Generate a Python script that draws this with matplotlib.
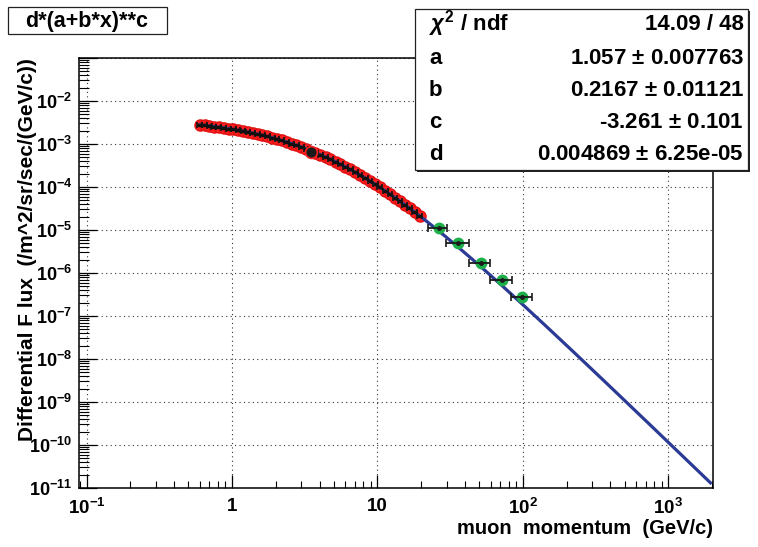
import numpy as np
import matplotlib
matplotlib.use('Agg')
import matplotlib.pyplot as plt
from matplotlib.patches import Rectangle
from matplotlib.ticker import FixedLocator, NullFormatter

plt.rcParams['font.family'] = ['Liberation Sans', 'DejaVu Sans']
plt.rcParams['font.weight'] = 'bold'
plt.rcParams['mathtext.fontset'] = 'custom'
plt.rcParams['mathtext.rm'] = 'Liberation Sans:bold'
plt.rcParams['mathtext.it'] = 'Liberation Sans:italic'
plt.rcParams['mathtext.bf'] = 'Liberation Sans:bold'

# red points (low momentum measurements)
red_x = [0.60, 0.65, 0.70, 0.75, 0.81, 0.88, 0.95, 1.02, 1.10, 1.19, 1.29, 1.39,
         1.50, 1.62, 1.75, 1.89, 2.04, 2.20, 2.38, 2.57, 2.77, 2.99, 3.23,
         3.75, 4.05, 4.40, 4.75, 5.15, 5.55, 6.00, 6.50, 7.05, 7.60, 8.25, 8.90,
         9.65, 10.4, 11.3, 12.2, 13.2, 14.3, 15.4, 16.7, 18.1, 19.6]
red_y = [2.78e-3, 2.70e-3, 2.62e-3, 2.55e-3, 2.46e-3, 2.37e-3, 2.27e-3, 2.19e-3,
         2.09e-3, 1.99e-3, 1.89e-3, 1.79e-3, 1.70e-3, 1.60e-3, 1.50e-3, 1.40e-3,
         1.30e-3, 1.21e-3, 1.11e-3, 1.02e-3, 9.37e-4, 8.54e-4, 7.75e-4,
         6.33e-4, 5.66e-4, 4.99e-4, 4.42e-4, 3.88e-4, 3.41e-4, 2.97e-4, 2.57e-4,
         2.20e-4, 1.90e-4, 1.61e-4, 1.38e-4, 1.16e-4, 9.8e-5, 8.15e-5, 6.83e-5,
         5.67e-5, 4.68e-5, 3.90e-5, 3.19e-5, 2.60e-5, 2.11e-5]
red_xerr_frac = 0.038

# overlapping point at the junction of the two red sets
join_x = [3.5]
join_y = [6.5e-4]

# green points (high momentum)
green_x = [26.3, 36.0, 51.3, 71.5, 99.0]
green_y = [1.13e-5, 4.9e-6, 1.74e-6, 6.9e-7, 2.72e-7]
green_xerr = [4.0, 6.3, 8.5, 12.2, 16.5]

# fit parameters from the stats box
fit_a, fit_b, fit_c, fit_d = 1.057, 0.2167, -3.261, 0.004869
fit_range = (0.6, 1950)

stats_rows = [(r'$\chi^{2}$ / ndf', '14.09 / 48'),
              ('a', '1.057 $\\pm$ 0.007763'),
              ('b', '0.2167 $\\pm$ 0.01121'),
              ('c', '-3.261 $\\pm$ 0.101'),
              ('d', '0.004869 $\\pm$ 6.25e-05')]

W, H = 758, 547
fig = plt.figure(figsize=(W / 100, H / 100), dpi=100)
ax = fig.add_axes([79 / W, 1 - 488 / H, (713 - 79) / W, (488 - 58) / H])
ax.set_xscale('log')
ax.set_yscale('log')
ax.set_xlim(0.0887, 2030)
ax.set_ylim(1e-11, 1e-1)

fx = np.geomspace(fit_range[0], fit_range[1], 400)
fy = fit_d * (fit_a + fit_b * fx) ** fit_c
ax.plot(fx, fy, color='#2b3a94', lw=2.3, zorder=4)

rx = np.array(red_x)
ax.plot(rx, red_y, 'o', color='#ff2020', ms=8, mec='#e01010', zorder=3)
ax.errorbar(rx, red_y, xerr=rx * red_xerr_frac, fmt='none', ecolor='#111111',
            elinewidth=2.4, capsize=2, capthick=1.2, zorder=5)
ax.plot(join_x, join_y, 'o', color='#1a1a1a', ms=8.5, mec='#ff2020', mew=1.2, zorder=6)

ax.plot(green_x, green_y, 'o', color='#1db04a', ms=7.5, mec='#1db04a', zorder=5)
ax.errorbar(green_x, green_y, xerr=green_xerr, fmt='none', ecolor='#1a1a1a',
            elinewidth=1.3, capsize=3, capthick=1.2, zorder=6)
ax.plot(green_x, green_y, 'o', color='#1a1a1a', ms=2.5, zorder=7)

# axes / ticks
xmaj = [0.1, 1, 10, 100, 1000]
xlab = [r'$10^{-1}$', '1', '10', r'$10^{2}$', r'$10^{3}$']
ymaj = [10.0 ** k for k in range(-11, 0)]
ylab = [r'$10^{%d}$' % k for k in range(-11, -1)] + ['']
ax.set_xticks(xmaj, xlab)
ax.set_yticks(ymaj, ylab)
xmin_t = [m * 10.0 ** e for e in range(-2, 4) for m in range(2, 10)]
ymin_t = [m * 10.0 ** e for e in range(-12, 0) for m in range(2, 10)]
ax.xaxis.set_minor_locator(FixedLocator(xmin_t))
ax.yaxis.set_minor_locator(FixedLocator(ymin_t))
ax.xaxis.set_minor_formatter(NullFormatter())
ax.yaxis.set_minor_formatter(NullFormatter())
ax.tick_params(axis='x', which='major', direction='in', length=9.5, width=0.9,
               labelsize=13.5, pad=7, top=False)
ax.tick_params(axis='x', which='minor', direction='in', length=4.8, width=0.8, top=False)
ax.tick_params(axis='y', which='major', direction='in', length=13, width=0.9,
               labelsize=13, pad=5, right=False)
ax.tick_params(axis='y', which='minor', direction='in', length=7, width=0.8, right=False)
for s in ax.spines.values():
    s.set_linewidth(1.1)
ax.grid(True, which='major', color='#333333', lw=0.8, ls=(0, (1, 3)))

fig.text(28 / W, 1 - 58 / H, 'Differential F lux  (/m^2/sr/sec/(GeV/c))',
         rotation=90, ha='center', va='top', fontsize=15, fontweight='bold')
fig.text(713 / W, 1 - 529 / H, 'muon  momentum  (GeV/c)', ha='right', va='center',
         fontsize=14.5, fontweight='bold')

# title box
fig.patches.append(Rectangle((8 / W, 1 - 34 / H), 159 / W, 27 / H, transform=fig.transFigure,
                             facecolor='white', edgecolor='#222222', lw=0.9))
fig.text(87 / W, 1 - 21 / H, 'd*(a+b*x)**c', ha='center', va='center', fontsize=15.5,
         fontweight='bold')

# stats box with shadow
fig.patches.append(Rectangle((417 / W, 1 - 172 / H), 333 / W, 161 / H, transform=fig.transFigure,
                             facecolor='#222222', edgecolor='none', zorder=10))
fig.patches.append(Rectangle((415 / W, 1 - 170 / H), 333 / W, 161 / H, transform=fig.transFigure,
                             facecolor='white', edgecolor='#222222', lw=0.9, zorder=11))
row_y = [24, 58, 91, 123, 155]
for (lab, val), yy in zip(stats_rows, row_y):
    fig.text(429 / W, 1 - yy / H, lab, ha='left', va='center', fontsize=16,
             fontweight='bold', zorder=12)
    fig.text(744 / W, 1 - yy / H, val, ha='right', va='center', fontsize=16,
             fontweight='bold', zorder=12)

fig.savefig('out.png', dpi=100)
